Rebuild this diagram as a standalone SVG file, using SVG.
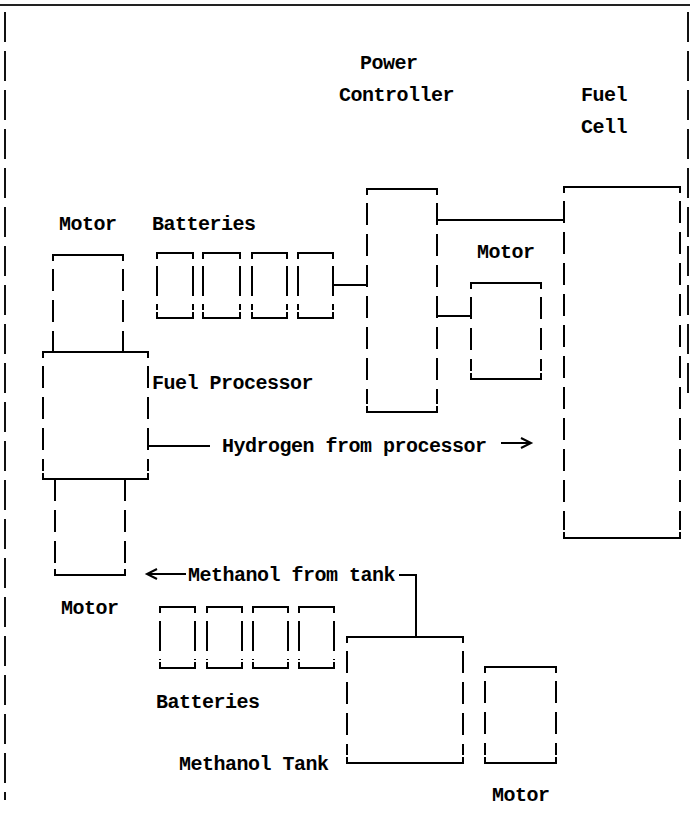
<svg xmlns="http://www.w3.org/2000/svg" width="690" height="814" viewBox="0 0 690 814">
<style>
.bg{fill:#fff}
.solid{fill:none;stroke:#000;stroke-width:2}
.dash{fill:none;stroke:#000;stroke-width:2;stroke-dasharray:22 9}
.frame{fill:none;stroke:#222;stroke-width:2}
.fdash{fill:none;stroke:#111;stroke-width:2;stroke-dasharray:30 9}
.conn{fill:none;stroke:#000;stroke-width:2}
text{font-family:"Liberation Mono","DejaVu Sans Mono",monospace;font-size:20px;letter-spacing:-0.5px;font-weight:bold;fill:#000}
</style>
<defs>
<marker id="chev" markerUnits="userSpaceOnUse" markerWidth="14" markerHeight="14" refX="10" refY="5" orient="auto" overflow="visible">
<path d="M0,0 L10,5 L0,10" fill="none" stroke="#000" stroke-width="2"/>
</marker>
</defs>
<rect class="bg" x="0" y="0" width="690" height="814"/>
<g id="frame">
<path class="frame" d="M0 5 H690"/>
<path class="fdash" d="M5 12 V800"/>
<path class="fdash" d="M688 12 V395"/>
</g>
<g id="power-controller">
<path class="solid" d="M367 195 V189 H437 V195 M367 406 V412 H437 V406"/>
<path class="dash" d="M367 203 V404 M437 203 V404"/>
<text x="360" y="69">Power</text>
<text x="339" y="101">Controller</text>
</g>
<g id="fuel-cell">
<path class="solid" d="M564 193 V187 H680 V193 M564 532 V538 H680 V532"/>
<path class="dash" d="M564 201 V530 M680 201 V530"/>
<text x="581" y="101">Fuel</text>
<text x="581" y="133">Cell</text>
</g>
<g id="motor-mid">
<path class="solid" d="M471 289 V283 H541 V289 M471 373 V379 H541 V373"/>
<path class="dash" d="M471 297 V371 M541 297 V371"/>
<text x="477" y="258">Motor</text>
</g>
<g id="motor-top-left">
<path class="solid" d="M53 261 V255 H123 V261"/>
<path class="dash" d="M53 269 V352 M123 269 V352"/>
<text x="59" y="230">Motor</text>
</g>
<g id="batteries-top">
<path class="solid" d="M157 259 V253 H193 V259 M157 312 V318 H193 V312 M203 259 V253 H240 V259 M203 312 V318 H240 V312 M252 259 V253 H287 V259 M252 312 V318 H287 V312 M298 259 V253 H333 V259 M298 312 V318 H333 V312"/>
<path class="dash" style="stroke-dasharray:30 8" d="M157 266 V310 M193 266 V310 M203 266 V310 M240 266 V310 M252 266 V310 M287 266 V310 M298 266 V310 M333 266 V310"/>
<text x="152" y="230">Batteries</text>
</g>
<g id="fuel-processor">
<path class="solid" d="M43 358 V352 H148 V358 M43 473 V479 H148 V473"/>
<path class="dash" d="M43 366 V471 M148 366 V471"/>
<text x="152" y="389">Fuel Processor</text>
</g>
<g id="motor-bottom-left">
<path class="solid" d="M55 569 V575 H125 V569"/>
<path class="dash" d="M55 479 V567 M125 479 V567"/>
<text x="61" y="614">Motor</text>
</g>
<g id="batteries-bottom">
<path class="solid" d="M160 613 V607 H195 V613 M160 662 V668 H195 V662 M207 613 V607 H242 V613 M207 662 V668 H242 V662 M253 613 V607 H288 V613 M253 662 V668 H288 V662 M299 613 V607 H334 V613 M299 662 V668 H334 V662"/>
<path class="dash" style="stroke-dasharray:30 8" d="M160 621 V660 M195 621 V660 M207 621 V660 M242 621 V660 M253 621 V660 M288 621 V660 M299 621 V660 M334 621 V660"/>
<text x="156" y="708">Batteries</text>
</g>
<g id="methanol-tank">
<path class="solid" d="M347 643 V637 H463 V643 M347 757 V763 H463 V757"/>
<path class="dash" d="M347 651 V755 M463 651 V755"/>
<text x="179" y="770">Methanol Tank</text>
</g>
<g id="motor-bottom-right">
<path class="solid" d="M485 673 V667 H556 V673 M485 757 V763 H556 V757"/>
<path class="dash" d="M485 681 V755 M556 681 V755"/>
<text x="492" y="801">Motor</text>
</g>
<g id="connectors">
<path class="conn" d="M333 285 H367"/>
<path class="conn" d="M437 220 H564"/>
<path class="conn" d="M437 316 H471"/>
<path class="conn" d="M148 446 H210"/>
<path class="conn" d="M501 443 H531" marker-end="url(#chev)"/>
<path class="conn" d="M416 637 V575 H399"/>
<path class="conn" d="M186 574 H147" marker-end="url(#chev)"/>
<text x="222" y="452">Hydrogen from processor</text>
<text x="188" y="581">Methanol from tank</text>
</g>
</svg>
